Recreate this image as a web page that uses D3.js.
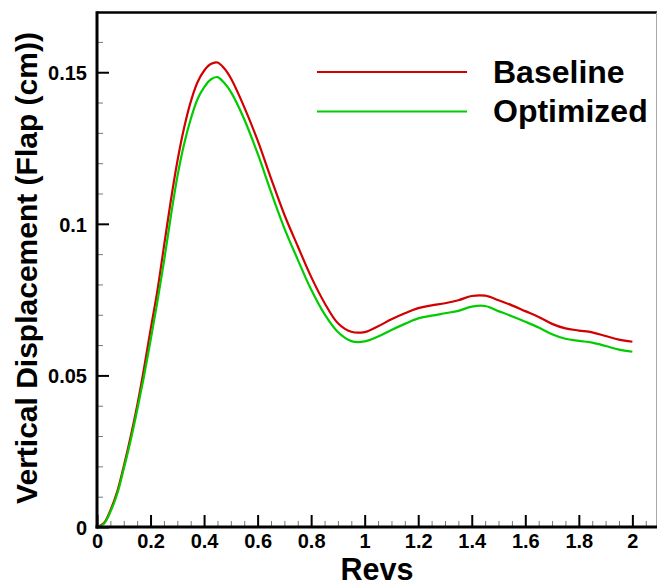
<!DOCTYPE html>
<html>
<head>
<meta charset="utf-8">
<script src="https://cdn.jsdelivr.net/npm/d3@7"></script>
<style>
  html, body { margin: 0; padding: 0; background: #fff; }
  svg { display: block; font-family: "Liberation Sans", Arial, Helvetica, sans-serif; }
</style>
</head>
<body>
<svg id="chart" width="658" height="586"></svg>
<script>
// Revolution positions (shared by both series)
const revs = [0, 0.025, 0.05, 0.075, 0.1, 0.125, 0.15, 0.175, 0.2, 0.225, 0.25, 0.275, 0.3,
  0.325, 0.35, 0.375, 0.4, 0.425, 0.45, 0.475, 0.5, 0.55, 0.6, 0.65, 0.7, 0.75, 0.8, 0.85,
  0.9, 0.95, 1.0, 1.05, 1.1, 1.15, 1.2, 1.25, 1.3, 1.35, 1.4, 1.45, 1.5, 1.55, 1.6, 1.65,
  1.7, 1.75, 1.8, 1.85, 1.9, 1.95, 2.0];

// Flap vertical displacement, cm
const baseline = [0, 0.0012, 0.0055, 0.0115, 0.0200, 0.0295, 0.0400, 0.0520, 0.0650, 0.0776,
  0.0925, 0.1072, 0.1205, 0.1315, 0.1402, 0.1466, 0.1505, 0.1527, 0.1532, 0.1513, 0.1480,
  0.1385, 0.1275, 0.1150, 0.1030, 0.0926, 0.0825, 0.0739, 0.0672, 0.0644, 0.0643, 0.0662,
  0.0685, 0.0705, 0.0722, 0.0731, 0.0738, 0.0748, 0.0762, 0.0763, 0.0748, 0.0731, 0.0712,
  0.0693, 0.0670, 0.0655, 0.0648, 0.0642, 0.0630, 0.0618, 0.0611];
const optimized = [0, 0.0010, 0.0050, 0.0108, 0.0192, 0.0283, 0.0385, 0.0495, 0.0615, 0.0740,
  0.0875, 0.1020, 0.1155, 0.1262, 0.1345, 0.1410, 0.1450, 0.1476, 0.1484, 0.1465, 0.1435,
  0.1345, 0.1232, 0.1105, 0.0985, 0.0882, 0.0783, 0.0702, 0.0643, 0.0613, 0.0612, 0.0628,
  0.0650, 0.0670, 0.0688, 0.0697, 0.0705, 0.0713, 0.0727, 0.0729, 0.0712, 0.0695, 0.0677,
  0.0658, 0.0636, 0.0621, 0.0614, 0.0608, 0.0597, 0.0585, 0.0578];

const seriesNames = ["Baseline", "Optimized"];
const seriesColors = ["#d20000", "#00cc00"];

const xMajor = [0, 0.2, 0.4, 0.6, 0.8, 1, 1.2, 1.4, 1.6, 1.8, 2];
const xMajorLabels = ["0", "0.2", "0.4", "0.6", "0.8", "1", "1.2", "1.4", "1.6", "1.8", "2"];
const yMajor = [0, 0.05, 0.1, 0.15];
const yMajorLabels = ["0", "0.05", "0.1", "0.15"];

const svg = d3.select("#chart");
const L = 97, R = 657, T = 12.5, B = 527;

const x = d3.scaleLinear().domain([0, 2.092]).range([L, R]);
const y = d3.scaleLinear().domain([0, 0.1697]).range([B, T]);

// minor ticks every 0.05 on x, every 0.01 on y
const xMinor = d3.range(0, 2.0926, 0.05).filter(v => !xMajor.some(m => Math.abs(m - v) < 1e-6));
const yMinor = d3.range(0, 0.1697, 0.01).filter(v => !yMajor.some(m => Math.abs(m - v) < 1e-6));

// x axis (ticks pointing into the plot)
const gx = svg.append("g").attr("transform", `translate(0,${B})`);
gx.call(d3.axisBottom(x).tickValues(xMinor).tickSize(-6).tickFormat(""))
  .call(g => g.select(".domain").remove())
  .call(g => g.selectAll("line").attr("stroke", "#777").attr("stroke-width", 1));
const gx2 = svg.append("g").attr("transform", `translate(0,${B})`);
gx2.call(d3.axisBottom(x).tickValues(xMajor).tickSize(-12)
    .tickFormat((d, i) => xMajorLabels[i]))
  .call(g => g.select(".domain").remove())
  .call(g => g.selectAll("line").attr("stroke", "#000").attr("stroke-width", 2))
  .call(g => g.selectAll("text").attr("font-size", 20).attr("font-weight", "bold")
      .attr("fill", "#000").attr("y", 21).attr("dy", "0"));

// y axis
const gy = svg.append("g").attr("transform", `translate(${L},0)`);
gy.call(d3.axisLeft(y).tickValues(yMinor).tickSize(-6).tickFormat(""))
  .call(g => g.select(".domain").remove())
  .call(g => g.selectAll("line").attr("stroke", "#777").attr("stroke-width", 1));
const gy2 = svg.append("g").attr("transform", `translate(${L},0)`);
gy2.call(d3.axisLeft(y).tickValues(yMajor).tickSize(-12)
    .tickFormat((d, i) => yMajorLabels[i]))
  .call(g => g.select(".domain").remove())
  .call(g => g.selectAll("line").attr("stroke", "#000").attr("stroke-width", 2))
  .call(g => g.selectAll("text").attr("font-size", 20).attr("font-weight", "bold")
      .attr("fill", "#000").attr("x", -10).attr("dy", "0.36em"));

// data lines
const line = d3.line().x((d, i) => x(revs[i])).y(d => y(d)).curve(d3.curveCatmullRom.alpha(0.5));
[baseline, optimized].forEach((vals, k) => {
  svg.append("path").datum(vals)
    .attr("d", line)
    .attr("fill", "none")
    .attr("stroke", seriesColors[k])
    .attr("stroke-width", 2.2)
    .attr("stroke-linejoin", "round");
});

// frame
svg.append("line").attr("x1", L).attr("x2", R).attr("y1", T).attr("y2", T)
  .attr("stroke", "#000").attr("stroke-width", 2.5);
svg.append("line").attr("x1", R - 0.5).attr("x2", R - 0.5).attr("y1", T).attr("y2", B)
  .attr("stroke", "#aaa").attr("stroke-width", 1);
svg.append("line").attr("x1", L).attr("x2", L).attr("y1", T - 1.2).attr("y2", B + 1.5)
  .attr("stroke", "#000").attr("stroke-width", 3);
svg.append("line").attr("x1", L - 1.5).attr("x2", R).attr("y1", B).attr("y2", B)
  .attr("stroke", "#000").attr("stroke-width", 3);

// legend
const legendY = [72, 111.5];
seriesNames.forEach((name, k) => {
  svg.append("line").attr("x1", 317).attr("x2", 467)
    .attr("y1", legendY[k]).attr("y2", legendY[k])
    .attr("stroke", seriesColors[k]).attr("stroke-width", 2);
  svg.append("text").attr("x", 493).attr("y", legendY[k] + 10.5)
    .attr("font-size", 32).attr("font-weight", "bold").attr("fill", "#000")
    .text(name);
});

// axis titles
svg.append("text").attr("x", (L + R) / 2).attr("y", 580)
  .attr("text-anchor", "middle").attr("font-size", 30.5).attr("font-weight", "bold")
  .text("Revs");
svg.append("text").attr("transform", "translate(37,268) rotate(-90)")
  .attr("text-anchor", "middle").attr("font-size", 30).attr("font-weight", "bold")
  .text("Vertical Displacement (Flap (cm))");
</script>
</body>
</html>
